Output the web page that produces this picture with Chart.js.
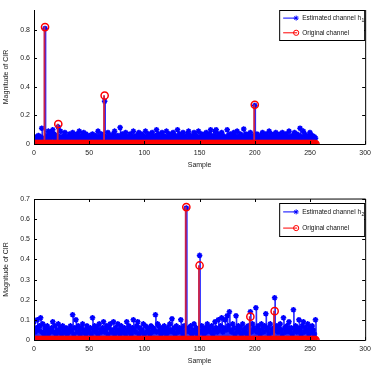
<!DOCTYPE html>
<html>
<head>
<meta charset="utf-8">
<script src="https://cdn.jsdelivr.net/npm/chart.js@4/dist/chart.umd.min.js"></script>
<style>
  html,body{margin:0;padding:0;background:#fff;}
  body{width:376px;height:371px;position:relative;overflow:hidden;}
  .box{position:absolute;left:0;width:376px;}
  #top{top:0;height:175px;}
  #bot{top:183px;height:188px;}
</style>
</head>
<body>
<div class="box" id="top"><canvas id="c1"></canvas></div>
<div class="box" id="bot"><canvas id="c2"></canvas></div>
<script>
// estimated channel h1, samples 0..255
const est1 = [
  0.04,0.03,0.05,0.02,0.06,0.03,0.05,0.11,0.04,0.03,0.81,0.05,0.06,0.09,0.03,0.08,
  0.05,0.10,0.07,0.04,0.06,0.03,0.12,0.05,0.09,0.04,0.03,0.06,0.08,0.04,0.05,0.03,
  0.07,0.05,0.04,0.08,0.06,0.03,0.05,0.07,0.04,0.09,0.03,0.06,0.05,0.08,0.04,0.07,
  0.03,0.05,0.06,0.04,0.03,0.07,0.05,0.04,0.06,0.03,0.09,0.05,0.04,0.07,0.06,0.03,
  0.30,0.05,0.04,0.08,0.03,0.06,0.05,0.04,0.07,0.09,0.03,0.05,0.06,0.04,0.115,0.05,
  0.07,0.03,0.06,0.08,0.04,0.05,0.03,0.07,0.06,0.04,0.09,0.05,0.03,0.06,0.04,0.08,
  0.05,0.07,0.03,0.06,0.04,0.09,0.05,0.03,0.07,0.06,0.04,0.08,0.05,0.03,0.06,0.10,
  0.04,0.07,0.05,0.03,0.08,0.06,0.04,0.05,0.09,0.03,0.06,0.07,0.04,0.05,0.08,0.03,
  0.06,0.04,0.10,0.05,0.07,0.03,0.06,0.08,0.04,0.05,0.03,0.07,0.09,0.04,0.06,0.05,
  0.03,0.08,0.05,0.06,0.04,0.09,0.03,0.05,0.07,0.04,0.06,0.03,0.08,0.05,0.04,0.07,
  0.10,0.05,0.03,0.06,0.09,0.10,0.04,0.07,0.05,0.03,0.08,0.06,0.04,0.05,0.03,0.10,
  0.06,0.04,0.07,0.05,0.03,0.08,0.06,0.04,0.09,0.05,0.03,0.07,0.06,0.04,0.105,0.05,
  0.07,0.03,0.06,0.04,0.08,0.05,0.03,0.06,0.27,0.04,0.07,0.05,0.03,0.06,0.04,0.08,
  0.05,0.03,0.07,0.06,0.04,0.09,0.05,0.07,0.03,0.06,0.04,0.08,0.05,0.03,0.06,0.07,
  0.04,0.08,0.05,0.03,0.07,0.06,0.04,0.09,0.05,0.03,0.06,0.04,0.08,0.05,0.07,0.04,
  0.06,0.11,0.05,0.03,0.09,0.07,0.04,0.06,0.03,0.05,0.08,0.04,0.06,0.03,0.05,0.04
];
// estimated channel h2
const est2 = [
  0.09,0.04,0.06,0.10,0.05,0.07,0.11,0.04,0.08,0.03,0.06,0.05,0.07,0.03,0.05,0.04,
  0.06,0.09,0.04,0.07,0.03,0.05,0.08,0.04,0.06,0.03,0.07,0.05,0.04,0.06,0.03,0.05,
  0.04,0.07,0.05,0.125,0.03,0.06,0.10,0.04,0.07,0.05,0.03,0.06,0.08,0.04,0.05,0.03,
  0.07,0.05,0.04,0.06,0.03,0.11,0.05,0.07,0.04,0.06,0.03,0.08,0.05,0.04,0.06,0.09,
  0.04,0.05,0.07,0.03,0.06,0.08,0.04,0.05,0.09,0.03,0.06,0.04,0.08,0.05,0.03,0.07,
  0.05,0.04,0.06,0.03,0.09,0.05,0.07,0.04,0.03,0.06,0.10,0.05,0.04,0.07,0.09,0.03,
  0.06,0.04,0.05,0.08,0.03,0.07,0.04,0.06,0.05,0.03,0.07,0.04,0.06,0.05,0.125,0.04,
  0.08,0.07,0.05,0.03,0.06,0.04,0.07,0.05,0.03,0.06,0.04,0.08,0.05,0.105,0.04,0.06,
  0.03,0.07,0.05,0.04,0.06,0.10,0.05,0.03,0.07,0.04,0.655,0.05,0.06,0.04,0.07,0.03,
  0.05,0.08,0.04,0.06,0.03,0.05,0.42,0.04,0.07,0.05,0.03,0.06,0.04,0.08,0.05,0.06,
  0.04,0.07,0.03,0.05,0.09,0.06,0.04,0.10,0.05,0.07,0.11,0.04,0.06,0.10,0.05,0.12,
  0.07,0.14,0.05,0.04,0.08,0.06,0.03,0.12,0.05,0.07,0.04,0.06,0.03,0.08,0.05,0.04,
  0.06,0.03,0.07,0.05,0.14,0.04,0.08,0.06,0.05,0.16,0.04,0.07,0.05,0.03,0.08,0.06,
  0.04,0.07,0.13,0.05,0.06,0.03,0.08,0.05,0.04,0.06,0.21,0.05,0.07,0.04,0.06,0.08,
  0.05,0.03,0.11,0.06,0.04,0.07,0.05,0.09,0.04,0.06,0.03,0.15,0.05,0.07,0.04,0.06,
  0.10,0.05,0.03,0.07,0.09,0.04,0.06,0.05,0.08,0.03,0.06,0.04,0.07,0.05,0.03,0.10
];
// original channel taps (all other samples are zero)
const tapPos1 = [10, 22, 64, 200];
const tapGain1 = [0.82, 0.14, 0.34, 0.275];
const tapPos2 = [138, 150, 196, 218];
const tapGain2 = [0.66, 0.37, 0.116, 0.143];

const xTicks = [0, 50, 100, 150, 200, 250, 300];
const yTicks1 = [0, 0.2, 0.4, 0.6, 0.8];
const yTicks2 = [0, 0.1, 0.2, 0.3, 0.4, 0.5, 0.6, 0.7];
const labels1 = ['Estimated channel h', '1', 'Original channel'];
const labels2 = ['Estimated channel h', '2', 'Original channel'];

const FONT = 'Liberation Sans, Arial, sans-serif';
const BLUE = '#0000ff', STEM = '#2a2aff', RED = '#ff0000', REDSTEM = '#c8204a';

function original(pos, gain){
  const out = est1.map(() => 0);
  pos.forEach((p, i) => { out[p] = gain[i]; });
  return out;
}
const pts = arr => arr.map((v, i) => ({x: i, y: v}));

// box, inward ticks and the legend
const frame = {
  id: 'frame',
  afterDraw(chart, args, opts){
    const ctx = chart.ctx, a = chart.chartArea;
    const xs = chart.scales.x, ys = chart.scales.y;
    ctx.save();
    ctx.strokeStyle = '#000';
    ctx.lineWidth = 1;
    ctx.beginPath();
    ctx.moveTo(a.left + .5, opts.topLine ? a.top + .5 : a.top);
    ctx.lineTo(a.left + .5, a.bottom + .5);
    ctx.lineTo(a.right + .5, a.bottom + .5);
    ctx.lineTo(a.right + .5, a.top);
    if(opts.topLine){ ctx.lineTo(a.left + .5, a.top + .5); }
    ctx.stroke();
    ctx.beginPath();
    xTicks.forEach(t => {
      const px = Math.round(xs.getPixelForValue(t)) + .5;
      ctx.moveTo(px, a.bottom); ctx.lineTo(px, a.bottom - 3);
      if(opts.topLine){ ctx.moveTo(px, a.top); ctx.lineTo(px, a.top + 3); }
    });
    opts.yTicks.forEach(t => {
      const py = Math.round(ys.getPixelForValue(t)) + .5;
      ctx.moveTo(a.left, py); ctx.lineTo(a.left + 3, py);
      ctx.moveTo(a.right, py); ctx.lineTo(a.right - 3, py);
    });
    ctx.stroke();

    // legend
    const lw = 85, lh = opts.legH;
    const lx = a.right - 1 - lw, ly = a.top + opts.legTop;
    ctx.fillStyle = '#fff';
    ctx.fillRect(lx, ly, lw, lh);
    ctx.strokeRect(lx + .5, ly + .5, lw, lh);
    const r1 = ly + lh * 0.27, r2 = ly + lh * 0.76;
    ctx.lineWidth = 1;
    ctx.strokeStyle = BLUE;
    ctx.beginPath(); ctx.moveTo(lx + 4, r1); ctx.lineTo(lx + 18, r1); ctx.stroke();
    Chart.helpers.drawPoint(ctx, {pointStyle: 'star', radius: 2.5, rotation: 0, borderWidth: 1.5}, lx + 17, r1);
    ctx.strokeStyle = RED;
    ctx.beginPath(); ctx.moveTo(lx + 4, r2); ctx.lineTo(lx + 18, r2); ctx.stroke();
    ctx.beginPath(); ctx.arc(lx + 17, r2, 2.6, 0, Math.PI * 2); ctx.stroke();
    ctx.fillStyle = '#111';
    ctx.textBaseline = 'middle';
    ctx.textAlign = 'left';
    ctx.font = '6.5px ' + FONT;
    ctx.fillText(opts.labels[0], lx + 23, r1);
    const w = ctx.measureText(opts.labels[0]).width;
    ctx.font = '5px ' + FONT;
    ctx.fillText(opts.labels[1], lx + 23 + w + .5, r1 + 2.5);
    ctx.font = '6.5px ' + FONT;
    ctx.fillText(opts.labels[2], lx + 23, r2);
    ctx.restore();
  }
};

function makeChart(id, est, orig, yMax, yTicks, padTop, labels, legTop, legH, topLine){
  return new Chart(document.getElementById(id), {
    type: 'bar',
    data: {
      datasets: [
        { type: 'bar', data: pts(est), backgroundColor: STEM, barThickness: 1, order: 4 },
        { type: 'line', data: pts(est), showLine: false, pointStyle: 'star', pointRadius: 2.8,
          pointBorderWidth: 1.5, pointBorderColor: BLUE, pointBackgroundColor: BLUE, order: 3 },
        { type: 'bar', data: pts(orig), backgroundColor: REDSTEM, barThickness: 1.2, order: 2 },
        { type: 'line', data: pts(orig), showLine: false, pointStyle: 'circle', pointRadius: 3.6,
          pointBorderWidth: 1.5, pointBorderColor: RED, pointBackgroundColor: 'rgba(0,0,0,0)', order: 1 }
      ]
    },
    options: {
      responsive: true,
      maintainAspectRatio: false,
      animation: false,
      events: [],
      layout: { padding: { top: padTop, right: 6, left: 0, bottom: 0 } },
      plugins: {
        legend: { display: false },
        tooltip: { enabled: false },
        frame: { yTicks: yTicks, labels: labels, legTop: legTop, legH: legH, topLine: topLine }
      },
      scales: {
        x: {
          type: 'linear', min: 0, max: 300, offset: false,
          grid: { display: false, drawTicks: false }, border: { display: false },
          afterBuildTicks: s => { s.ticks = xTicks.map(v => ({value: v})); },
          afterFit: s => { s.height = 31; },
          ticks: { padding: 5, color: '#222', font: { family: FONT, size: 7 } },
          title: { display: true, text: 'Sample', color: '#222', padding: { top: 0, bottom: 6 },
                   font: { family: FONT, size: 7 } }
        },
        y: {
          min: 0, max: yMax,
          grid: { display: false, drawTicks: false }, border: { display: false },
          afterBuildTicks: s => { s.ticks = yTicks.map(v => ({value: v})); },
          afterFit: s => { s.width = 34; },
          ticks: { padding: 4, color: '#222', font: { family: FONT, size: 7 } },
          title: { display: true, text: 'Magnitude of CIR', color: '#222', padding: { top: 2, bottom: 0 },
                   font: { family: FONT, size: 7 } }
        }
      }
    },
    plugins: [frame]
  });
}

makeChart('c1', est1, original(tapPos1, tapGain1), 0.94, yTicks1, 10, labels1, 0, 30, false);
makeChart('c2', est2, original(tapPos2, tapGain2), 0.7, yTicks2, 16, labels2, 4, 33, true);
</script>
</body>
</html>
